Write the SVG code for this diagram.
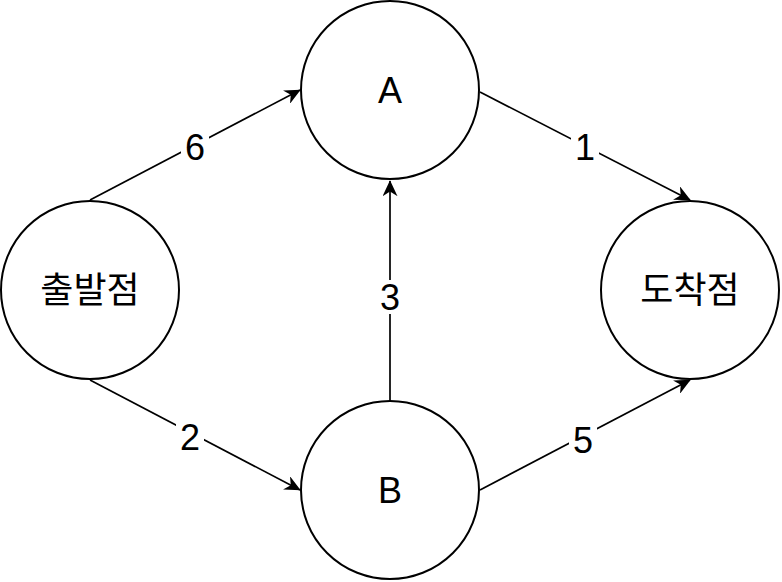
<svg xmlns="http://www.w3.org/2000/svg" width="782" height="582" viewBox="0 0 782 582">
<defs>
<marker id="arr" viewBox="0 0 10 10" refX="9.5" refY="5" markerWidth="16" markerHeight="15" markerUnits="userSpaceOnUse" orient="auto" preserveAspectRatio="none">
<path d="M0,0 L10,5 L0,10 L3,5 Z" fill="#000"/>
</marker>
</defs>
<style>
.node{fill:#fff;stroke:#000;stroke-width:2}
.t{font-family:"Liberation Sans","Noto Sans CJK KR",sans-serif;font-size:36px;fill:#000;text-anchor:middle;dominant-baseline:central}
.e{stroke:#000;stroke-width:1.7;fill:none;marker-end:url(#arr)}
.lb{fill:#fff}
</style>
<rect width="782" height="582" fill="#fff"/>
<g id="connectors">
<path class="e" d="M90,200 L300,90"/>
<path class="e" d="M90,380 L300,490"/>
<path class="e" d="M390,400 L390,181"/>
<path class="e" d="M480,92 L690,200"/>
<path class="e" d="M480,490 L690,380"/>
<rect class="lb" x="181" y="130" width="28" height="34"/>
<text class="t" x="195" y="147">6</text>
<rect class="lb" x="176" y="420" width="28" height="34"/>
<text class="t" x="190" y="437">2</text>
<rect class="lb" x="376" y="280" width="28" height="34"/>
<text class="t" x="390" y="297">3</text>
<rect class="lb" x="571" y="130" width="28" height="34"/>
<text class="t" x="585" y="147">1</text>
<rect class="lb" x="569" y="423" width="28" height="34"/>
<text class="t" x="583" y="440">5</text>
</g>
<g id="start"><circle class="node" cx="90" cy="290" r="89"/><text class="t" x="90" y="290">출발점</text></g>
<g id="A"><circle class="node" cx="390" cy="90" r="89"/><text class="t" x="390" y="90">A</text></g>
<g id="B"><circle class="node" cx="390" cy="490" r="89"/><text class="t" x="390" y="490">B</text></g>
<g id="end"><circle class="node" cx="690" cy="290" r="89"/><text class="t" x="690" y="290">도착점</text></g>
</svg>
